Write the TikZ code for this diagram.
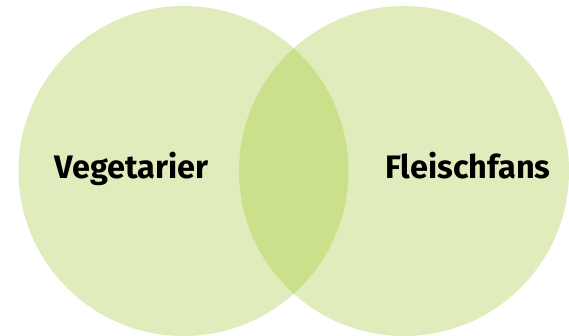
\documentclass[tikz,border=0pt]{standalone}
\usepackage{fontspec}
\setmainfont{Fira Sans}
\definecolor{circfill}{HTML}{E0ECBC}
\definecolor{overlapfill}{HTML}{CBE08A}
\tikzset{
  setcircle/.style={circle, fill=circfill, minimum size=330pt, inner sep=0pt},
  setlabel/.style={font=\fontsize{32.5}{38}\selectfont\bfseries, text=black, inner sep=0pt, anchor=base}
}
\begin{document}
\begin{tikzpicture}[x=1pt,y=-1pt]
\useasboundingbox (0,0) rectangle (569,336);
\node[setcircle] (left) at (183.5,171) {};
\node[setcircle] (right) at (404,171) {};
\begin{scope}
  \clip (183.5,171) circle (165pt);
  \fill[overlapfill] (404,171) circle (165pt);
\end{scope}
\node[setlabel] (veg) at (131.5,179) {Vegetarier};
\node[setlabel] (fleisch) at (468,179) {Fleischfans};
\end{tikzpicture}
\end{document}
